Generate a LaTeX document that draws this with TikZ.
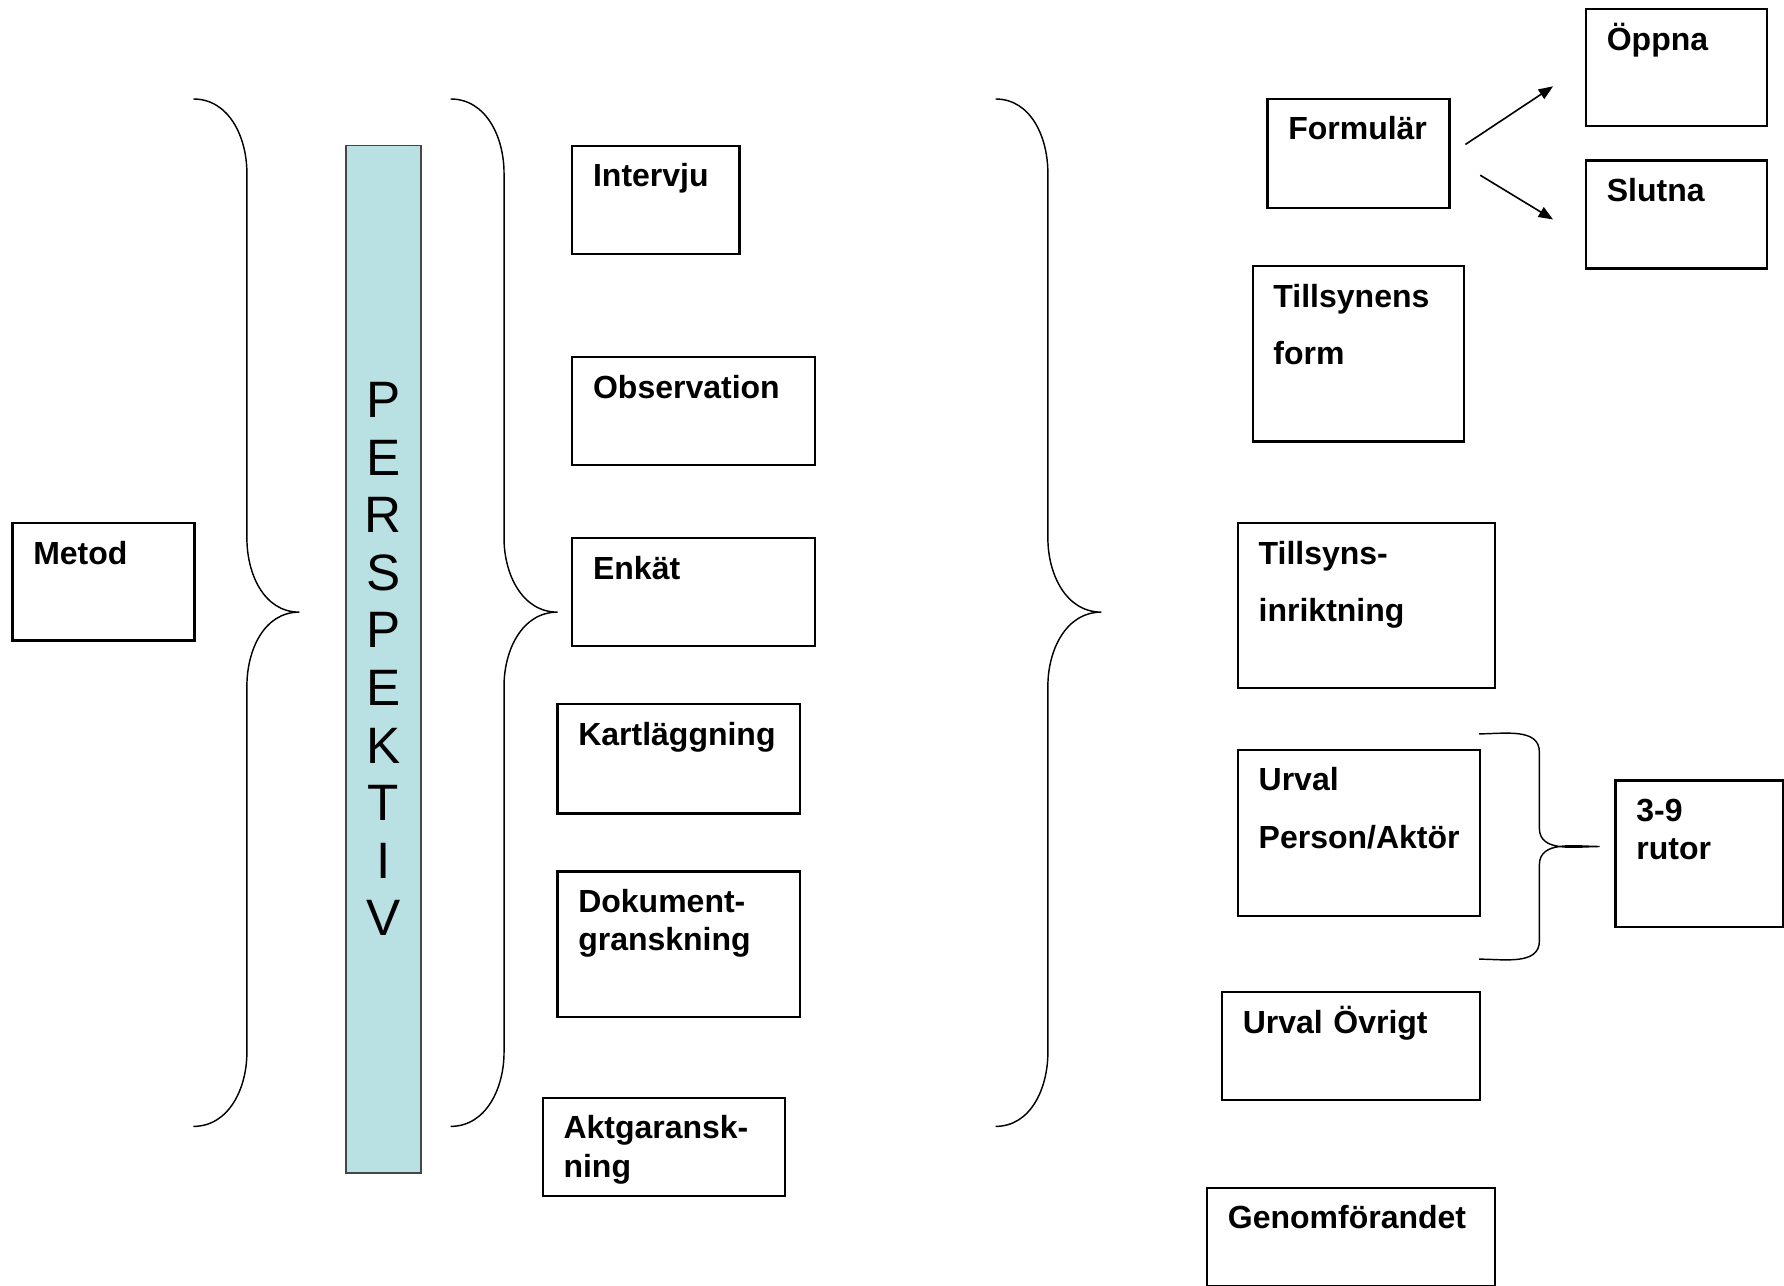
\documentclass[tikz,border=0pt]{standalone}
\usepackage{fontspec}
\setmainfont{Liberation Sans}
\usepackage{tikz}
\usetikzlibrary{
  arrows.meta,
  positioning,
  calc
}
\definecolor{pblue}{RGB}{185,224,227}
\definecolor{pedge}{RGB}{70,70,70}

\begin{document}
\begin{tikzpicture}[
  box/.style={draw, line width=1.4pt, anchor=north west, inner sep=0pt},
  txt/.style={anchor=base west, inner sep=0pt, xshift=0.475cm, yshift=-0.925cm,
              text width=7cm, align=left, font=\fontsize{20}{24}\selectfont\bfseries},
  bar/.style={draw=pedge, fill=pblue, line width=1.2pt, anchor=north west,
              minimum width=1.65cm, minimum height=22.575cm, align=center,
              font=\fontsize{32}{36}\selectfont},
  brace/.style={line width=0.9pt},
  arr/.style={-{Triangle[length=9pt,width=7pt]}, line width=1pt}
]
  \useasboundingbox (0,0) rectangle (39.2,-28.25);

  % Metod and perspektiv
  \node[box, minimum width=4cm, minimum height=2.575cm,
        label={[txt]north west:Metod}] (metod) at (0.25,-11.475) {};
  \node[bar] (persp) at (7.575,-3.175) {P\\E\\R\\S\\P\\E\\K\\T\\I\\V};

  % braces
  \draw[brace] (4.25,-2.175) to[out=0,in=90] (5.425,-3.8) -- (5.425,-11.825)
    to[out=-90,in=180] (6.575,-13.45) to[out=180,in=90] (5.425,-15.075)
    -- (5.425,-23.125) to[out=-90,in=0] (4.25,-24.75);
  \draw[brace] (9.9,-2.175) to[out=0,in=90] (11.075,-3.8) -- (11.075,-11.825)
    to[out=-90,in=180] (12.25,-13.45) to[out=180,in=90] (11.075,-15.075)
    -- (11.075,-23.125) to[out=-90,in=0] (9.9,-24.75);
  \draw[brace] (21.875,-2.175) to[out=0,in=90] (23.025,-3.8) -- (23.025,-11.825)
    to[out=-90,in=180] (24.2,-13.45) to[out=180,in=90] (23.025,-15.075)
    -- (23.025,-23.125) to[out=-90,in=0] (21.875,-24.75);

  % methods
  \node[box, minimum width=3.675cm, minimum height=2.375cm,
        label={[txt]north west:Intervju}] (intervju) at (12.55,-3.175) {};
  \node[box, minimum width=5.325cm, minimum height=2.375cm,
        label={[txt]north west:Observation}] (observation) at (12.55,-7.825) {};
  \node[box, minimum width=5.325cm, minimum height=2.375cm,
        label={[txt]north west:Enkät}] (enkat) at (12.55,-11.8) {};
  \node[box, minimum width=5.325cm, minimum height=2.4cm,
        label={[txt]north west:Kartläggning}] (kartlaggning) at (12.225,-15.45) {};
  \node[box, minimum width=5.325cm, minimum height=3.2cm,
        label={[txt]north west:{Dokument-\\granskning}}] (dokument) at (12.225,-19.125) {};
  \node[box, minimum width=5.325cm, minimum height=2.15cm,
        label={[txt]north west:{Aktgaransk-\\ning}}] (aktgransk) at (11.9,-24.1) {};

  % enkät parts
  \node[box, minimum width=4cm, minimum height=2.4cm,
        label={[txt]north west:Formulär}] (formular) at (27.825,-2.15) {};
  \node[box, minimum width=3.975cm, minimum height=2.575cm,
        label={[txt]north west:Öppna}] (oppna) at (34.825,-0.175) {};
  \node[box, minimum width=3.975cm, minimum height=2.375cm,
        label={[txt]north west:Slutna}] (slutna) at (34.825,-3.5) {};
  \node[box, minimum width=4.65cm, minimum height=3.85cm,
        label={[txt]north west:{Tillsynens\\[12pt]form}}] (tform) at (27.5,-5.825) {};
  \node[box, minimum width=5.65cm, minimum height=3.625cm,
        label={[txt]north west:{Tillsyns-\\[12pt]inriktning}}] (tinrikt) at (27.175,-11.475) {};
  \node[box, minimum width=5.325cm, minimum height=3.65cm,
        label={[txt]north west:{Urval\\[12pt]Person/Aktör}}] (urvalperson) at (27.175,-16.45) {};
  \node[box, minimum width=3.675cm, minimum height=3.225cm,
        label={[txt]north west:{3-9\\rutor}}] (rutor) at (35.475,-17.125) {};
  \node[box, minimum width=5.675cm, minimum height=2.375cm,
        label={[txt]north west:Urval Övrigt}] (urvalovrigt) at (26.825,-21.775) {};
  \node[box, minimum width=6.325cm, minimum height=2.15cm,
        label={[txt]north west:Genomförandet}] (genomf) at (26.5,-26.075) {};

  \draw[arr] ([shift={(0.325,0.2)}]formular.east) -- ([shift={(-0.7,-0.41)}]oppna.west);
  \draw[arr] ([shift={(0.65,-0.475)}]formular.east) -- ([shift={(-0.7,-0.11)}]slutna.west);

  % small brace to 3-9 rutor
  \draw[brace] (32.5,-16.125) to[out=0,in=90] (33.825,-16.525) -- (33.825,-18.2)
    to[out=-90,in=180] (35.15,-18.6) to[out=180,in=90] (33.825,-19.0)
    -- (33.825,-20.675) to[out=-90,in=0] (32.5,-21.075);
\end{tikzpicture}
\end{document}
